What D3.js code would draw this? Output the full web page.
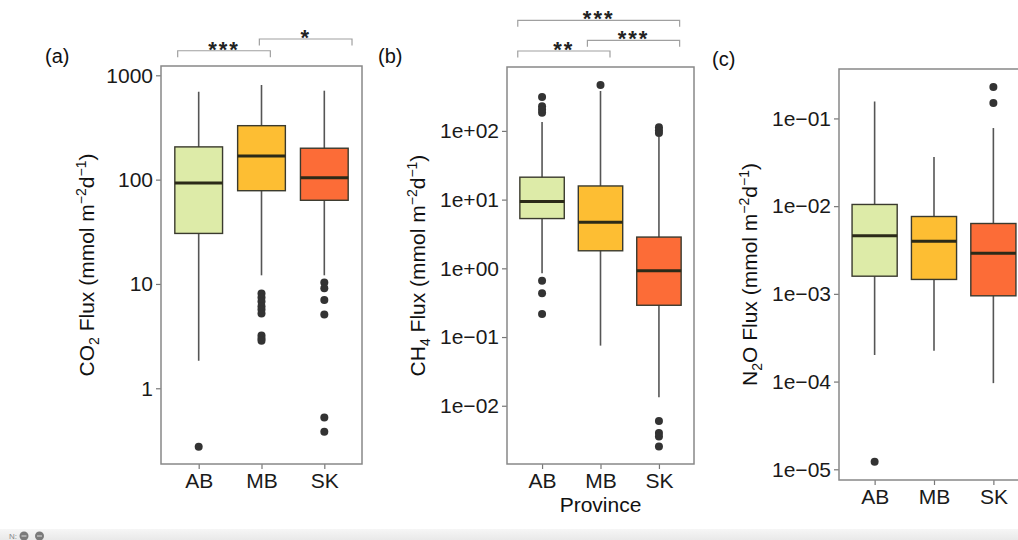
<!DOCTYPE html>
<html>
<head>
<meta charset="utf-8">
<script src="https://cdn.jsdelivr.net/npm/d3@7"></script>
<style>
  body { margin: 0; background: #fff; }
  svg { display: block; font-family: "Liberation Sans", Arial, Helvetica, sans-serif; }
</style>
</head>
<body>
<div id="my_datavis"></div>
<script>
var groups = ["AB", "MB", "SK"];
var colors = ["#DDEBA8", "#FDBE33", "#FC6C37"];

// [lower whisker, q1, median, q3, upper whisker]
var co2Stats = [[1.84, 30.5, 93, 206, 697], [12.1, 78.3, 168, 329, 807], [12.1, 63.4, 104, 200, 712]];
var co2Outliers = [[0.275], [8.1, 7.4, 6.8, 6.1, 5.7, 5.2, 3.2, 3.0, 2.86], [10.3, 9.1, 7.0, 5.1, 0.526, 0.383]];
var co2Limits = [0.188, 1228];
var co2Ticks = [1, 10, 100, 1000];
var co2TickLabels = ["1", "10", "100", "1000"];
var co2Brackets = [["AB", "MB", "***", 1720], ["MB", "SK", "*", 2228]];

var ch4Stats = [[0.845, 5.3, 9.4, 21.2, 135], [0.075, 1.8, 4.7, 15.8, 381], [0.0133, 0.29, 0.92, 2.85, 82]];
var ch4Outliers = [[312, 228, 205, 183, 0.66, 0.434, 0.217], [467], [113, 102, 93.5, 0.006, 0.004, 0.00356, 0.00255]];
var ch4Limits = [0.00142, 851];
var ch4Ticks = [0.01, 0.1, 1, 10, 100];
var ch4TickLabels = ["1e\u221202", "1e\u221201", "1e+00", "1e+01", "1e+02"];
var ch4Brackets = [["AB", "MB", "**", 1455], ["MB", "SK", "***", 2080], ["AB", "SK", "***", 4064]];

var n2oStats = [[0.000201, 0.00159, 0.00459, 0.01045, 0.156], [0.000224, 0.00146, 0.00399, 0.00762, 0.0363], [0.000096, 0.00095, 0.00291, 0.00634, 0.0777]];
var n2oOutliers = [[0.0000122], [], [0.228, 0.15]];
var n2oLimits = [0.00000755, 0.366];
var n2oTicks = [0.00001, 0.0001, 0.001, 0.01, 0.1];
var n2oTickLabels = ["1e\u221205", "1e\u221204", "1e\u221203", "1e\u221202", "1e\u221201"];
var n2oBrackets = [];

var panels = [
  { tag: "(a)", gas: ["CO", "2"], stats: co2Stats, outliers: co2Outliers, limits: co2Limits, ticks: co2Ticks, tickLabels: co2TickLabels, brackets: co2Brackets,
    left: 161, right: 362, top: 66, bottom: 464, tagX: 45, tagY: 63, titleX: 94, bPad: [-21, 27.7], tip: 5.5, xTitle: false },
  { tag: "(b)", gas: ["CH", "4"], stats: ch4Stats, outliers: ch4Outliers, limits: ch4Limits, ticks: ch4Ticks, tickLabels: ch4TickLabels, brackets: ch4Brackets,
    left: 507, right: 694, top: 67, bottom: 464, tagX: 378, tagY: 63, titleX: 425, bPad: [-24.3, 20.7], tip: 11.3, xTitle: true },
  { tag: "(c)", gas: ["N", "2", "O"], stats: n2oStats, outliers: n2oOutliers, limits: n2oLimits, ticks: n2oTicks, tickLabels: n2oTickLabels, brackets: n2oBrackets,
    left: 839, right: 1029, top: 69, bottom: 480, tagX: 712, tagY: 66, titleX: 757, bPad: [0, 0], tip: 0, xTitle: false }
];

var W = 1018, H = 540;
var svg = d3.select("#my_datavis")
  .append("svg")
  .attr("width", W)
  .attr("height", H);

panels.forEach(function(p) {
  var x = d3.scalePoint()
    .domain(groups)
    .range([p.left, p.right])
    .padding(0.6);
  var y = d3.scaleLog()
    .domain(p.limits)
    .range([p.bottom, p.top]);
  var bw = x.step() * 0.76;

  var g = svg.append("g");

  // axes
  var yAxis = g.append("g")
    .attr("transform", "translate(" + p.left + ",0)")
    .call(d3.axisLeft(y).tickValues(p.ticks).tickSize(5).tickPadding(3)
      .tickFormat(function(d, i) { return p.tickLabels[i]; }));
  var xAxis = g.append("g")
    .attr("transform", "translate(0," + p.bottom + ")")
    .call(d3.axisBottom(x).tickSize(5).tickPadding(4));
  [yAxis, xAxis].forEach(function(a) {
    a.select(".domain").remove();
    a.selectAll(".tick line").attr("stroke", "#777").attr("stroke-width", 1.2);
    a.selectAll(".tick text").attr("fill", "#1a1a1a").style("font-size", "21px").style("font-family", "Liberation Sans, Arial, sans-serif");
  });

  // boxes
  var box = g.selectAll(".box")
    .data(groups)
    .enter().append("g");
  box.append("line")
    .attr("x1", function(d) { return x(d); })
    .attr("x2", function(d) { return x(d); })
    .attr("y1", function(d, i) { return y(p.stats[i][0]); })
    .attr("y2", function(d, i) { return y(p.stats[i][4]); })
    .attr("stroke", "#555")
    .attr("stroke-width", 1.6);
  box.append("rect")
    .attr("x", function(d) { return x(d) - bw / 2; })
    .attr("y", function(d, i) { return y(p.stats[i][3]); })
    .attr("width", bw)
    .attr("height", function(d, i) { return y(p.stats[i][1]) - y(p.stats[i][3]); })
    .attr("fill", function(d, i) { return colors[i]; })
    .attr("stroke", "#3a3a2e")
    .attr("stroke-width", 1.4);
  box.append("line")
    .attr("x1", function(d) { return x(d) - bw / 2; })
    .attr("x2", function(d) { return x(d) + bw / 2; })
    .attr("y1", function(d, i) { return y(p.stats[i][2]); })
    .attr("y2", function(d, i) { return y(p.stats[i][2]); })
    .attr("stroke", "#2b2a18")
    .attr("stroke-width", 3);

  // outliers
  groups.forEach(function(grp, i) {
    g.selectAll(null)
      .data(p.outliers[i])
      .enter().append("circle")
      .attr("cx", x(grp))
      .attr("cy", function(d) { return y(d); })
      .attr("r", 4)
      .attr("fill", "#333");
  });

  // panel border
  g.append("rect")
    .attr("x", p.left)
    .attr("y", p.top)
    .attr("width", p.right - p.left)
    .attr("height", p.bottom - p.top)
    .attr("fill", "none")
    .attr("stroke", "#888")
    .attr("stroke-width", 1.5);

  // significance brackets
  var bx = d3.scalePoint()
    .domain(groups)
    .range([x(groups[0]) + p.bPad[0], x(groups[2]) + p.bPad[1]]);
  p.brackets.forEach(function(b) {
    var x1 = bx(b[0]) - (b[0] === "MB" ? p.tip : 0);
    var x2 = bx(b[1]) + (b[1] === "MB" ? p.tip : 0);
    var yb = y(b[3]);
    g.append("path")
      .attr("d", "M" + x1 + "," + (yb + 6.5) + "V" + yb + "H" + x2 + "V" + (yb + 6.5))
      .attr("fill", "none")
      .attr("stroke", "#a0a0a0")
      .attr("stroke-width", 1.2);
    g.append("text")
      .attr("x", (x1 + x2) / 2)
      .attr("y", yb + 6)
      .attr("text-anchor", "middle")
      .style("font-size", "22px")
      .style("font-weight", "bold")
      .style("letter-spacing", "2px")
      .attr("fill", "#222")
      .text(b[2]);
  });

  // panel tag
  g.append("text")
    .attr("x", p.tagX)
    .attr("y", p.tagY)
    .style("font-size", "20px")
    .attr("fill", "#111")
    .text(p.tag);

  // y title
  var t = g.append("text")
    .attr("transform", "translate(" + p.titleX + "," + ((p.top + p.bottom) / 2) + ") rotate(-90)")
    .attr("text-anchor", "middle")
    .style("font-size", "21px")
    .attr("fill", "#111");
  t.append("tspan").text(p.gas[0]);
  t.append("tspan").attr("dy", 5).style("font-size", "14px").text(p.gas[1]);
  t.append("tspan").attr("dy", -5).text((p.gas[2] || "") + " Flux (mmol m");
  t.append("tspan").attr("dy", -8).style("font-size", "14px").text("\u22122");
  t.append("tspan").attr("dy", 8).text("d");
  t.append("tspan").attr("dy", -8).style("font-size", "14px").text("\u22121");
  t.append("tspan").attr("dy", 8).text(")");

  if (p.xTitle) {
    g.append("text")
      .attr("x", (p.left + p.right) / 2)
      .attr("y", p.bottom + 48)
      .attr("text-anchor", "middle")
      .style("font-size", "21px")
      .attr("fill", "#111")
      .text("Province");
  }
});

// viewer strip along the bottom
var grad = svg.append("defs").append("linearGradient")
  .attr("id", "strip").attr("x1", 0).attr("x2", 0).attr("y1", 0).attr("y2", 1);
grad.append("stop").attr("offset", 0).attr("stop-color", "#f6f6f6");
grad.append("stop").attr("offset", 1).attr("stop-color", "#e9e9e9");
svg.append("rect")
  .attr("x", 0).attr("y", 529).attr("width", W).attr("height", H - 529)
  .attr("fill", "url(#strip)");
svg.append("text")
  .attr("x", 9).attr("y", 539)
  .style("font-size", "8px").attr("fill", "#888")
  .text("N:");
[24, 39.5].forEach(function(cx) {
  svg.append("circle").attr("cx", cx).attr("cy", 536).attr("r", 4.5).attr("fill", "#7a7a7a");
  svg.append("line").attr("x1", cx - 2.5).attr("x2", cx + 2.5).attr("y1", 536).attr("y2", 536)
    .attr("stroke", "#ddd").attr("stroke-width", 1);
});
</script>
</body>
</html>
